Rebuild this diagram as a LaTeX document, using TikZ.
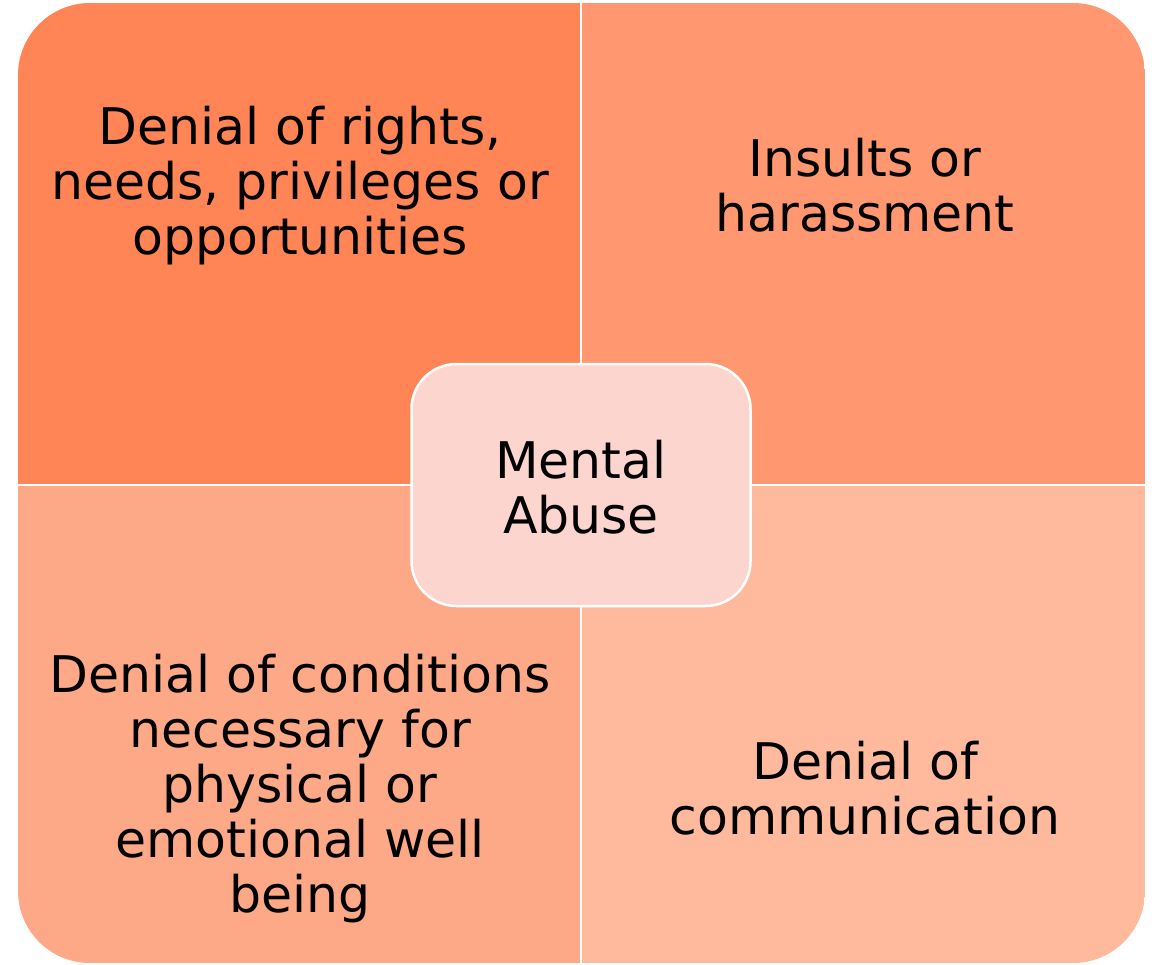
\documentclass[tikz,border=0pt]{standalone}
\usepackage{fontspec}
\setmainfont{DejaVu Sans}
\definecolor{tlc}{RGB}{255,133,86}
\definecolor{trc}{RGB}{255,152,112}
\definecolor{blc}{RGB}{253,168,134}
\definecolor{brc}{RGB}{255,186,158}
\definecolor{cenc}{RGB}{252,213,206}
\tikzset{
  lbl/.style={align=center, text=black, font=\fontsize{50.5}{55}\selectfont, inner sep=0pt},
  divider/.style={draw=white, line width=2.5pt},
  centrebox/.style={rounded corners=45pt, fill=cenc, draw=white, line width=2.5pt,
    minimum width=339pt, minimum height=242pt}
}
\begin{document}
\begin{tikzpicture}[x=1pt,y=-1pt]
\useasboundingbox (0,0) rectangle (1155,964);
\begin{scope}
  \clip[rounded corners=72pt] (18,3) rectangle (1145,963);
  \fill[tlc] (18,3) rectangle (581,485);
  \fill[trc] (581,3) rectangle (1145,485);
  \fill[blc] (18,485) rectangle (581,963);
  \fill[brc] (581,485) rectangle (1145,963);
\end{scope}
\coordinate (vt) at (581,3);
\coordinate (vb) at (581,963);
\coordinate (hl) at (18,485);
\coordinate (hr) at (1145,485);
\draw[divider] (vt) -- (vb);
\draw[divider] (hl) -- (hr);
\node[centrebox] (centre) at (581,485) {};
\node[lbl] (mental) at (581,487) {Mental\\Abuse};
\node[lbl] (rights) at (300,186) {Denial of rights,\\needs, privileges or\\opportunities};
\node[lbl] (insults) at (865,185) {Insults or\\harassment};
\node[lbl] (conditions) at (300,789) {Denial of conditions\\necessary for\\physical or\\emotional well\\being};
\node[lbl] (communication) at (865,788) {Denial of\\communication};
\end{tikzpicture}
\end{document}
